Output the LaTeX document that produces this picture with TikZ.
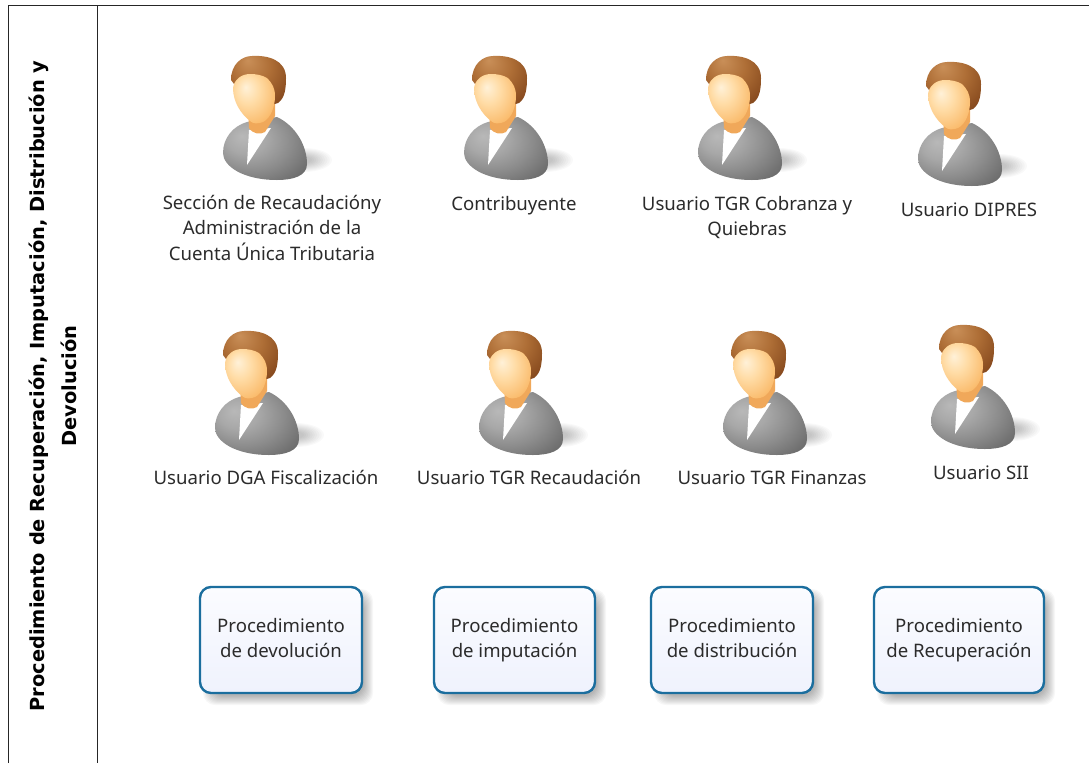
\documentclass[tikz,border=0pt]{standalone}
\usepackage{fontspec}
\setmainfont{Noto Sans}
\newfontfamily\ttlfont{DejaVu Sans}
\usetikzlibrary{calc}
\definecolor{labelc}{HTML}{2B2B2B}
\definecolor{boxb}{HTML}{1B6E9E}
\definecolor{boxf}{HTML}{EFF2FD}
\definecolor{boxt}{HTML}{FBFCFF}
\definecolor{neckc}{HTML}{F0A85A}
\definecolor{bodyA}{HTML}{B8B8B8}\definecolor{bodyB}{HTML}{A8A8A8}\definecolor{bodyC}{HTML}{8C8C8C}\definecolor{bodyD}{HTML}{686868}\definecolor{bodyE}{HTML}{404040}
\definecolor{faceA}{HTML}{FFF1D8}\definecolor{faceB}{HTML}{FFDCA6}\definecolor{faceC}{HTML}{FABB6C}\definecolor{faceD}{HTML}{E8923A}
\definecolor{hairA}{HTML}{C98F58}\definecolor{hairB}{HTML}{AE6E36}\definecolor{hairC}{HTML}{874A1E}\definecolor{hairD}{HTML}{633414}
\pgfdeclareradialshading{bodyshade}{\pgfpoint{-14bp}{10bp}}{color(0bp)=(bodyA);color(12bp)=(bodyB);color(24bp)=(bodyC);color(38bp)=(bodyD);color(60bp)=(bodyE)}
\pgfdeclareradialshading{faceshade}{\pgfpoint{-10bp}{12bp}}{color(0bp)=(faceA);color(14bp)=(faceB);color(32bp)=(faceC);color(60bp)=(faceD)}
\pgfdeclareradialshading{hairshade}{\pgfpoint{-10bp}{20bp}}{color(0bp)=(hairA);color(18bp)=(hairB);color(36bp)=(hairC);color(60bp)=(hairD)}
\tikzset{
  x=1pt,y=-1pt,
  lab/.style={font=\fontsize{18.6}{25}\selectfont,text=labelc,align=center,inner sep=0pt},
  ttl/.style={font=\fontsize{19.4}{32}\ttlfont\bfseries\selectfont,text=black,align=center,inner sep=0pt,rotate=90},
  frameln/.style={draw=black!85,line width=1.8pt},
  person/.pic={
    % floor shadow
    \foreach \k in {1,.92,.84,.76,.68,.6,.52,.44,.36,.28}{
      \fill[black,opacity=.022] (46,104) ellipse ({28*\k} and {12*\k});
    }
    % body
    \path[shading=bodyshade] (-11,66)
      .. controls (-25,70) and (-35,82) .. (-35,97)
      .. controls (-35,110) and (-15,124) .. (19,124)
      .. controls (35,124) and (49,120) .. (49,108)
      .. controls (49,90) and (38,70) .. (19,61) -- cycle;
    % shirt
    \fill[white] (-9,74) -- (-11,109) -- (13,72) -- cycle;
    % neck
    \fill[neckc] (-10,54) -- (-9,72) .. controls (-5,78) and (2,79) .. (7,76) -- (17,60) -- (17,48) -- cycle;
    % hair back
    \path[shading=hairshade] (-27,24)
      .. controls (-27,8) and (-16,0) .. (-6,0)
      .. controls (10,-1) and (28,4) .. (28,22)
      .. controls (28,32) and (27,42) .. (20,47)
      -- (10,50) -- (-15,40) -- cycle;
    % face
    \path[shading=faceshade] (-25,32)
      .. controls (-24,24) and (-17,18) .. (-8,18)
      .. controls (-2,18) and (4,19) .. (9,22)
      .. controls (14,27) and (17,32) .. (17,40)
      .. controls (17,50) and (13,62) .. (5,66)
      .. controls (0,68) and (-5,68) .. (-8,65)
      .. controls (-17,58) and (-25,46) .. (-25,32) -- cycle;
  },
  procbox/.style={draw=boxb,line width=2.4pt,top color=boxt,bottom color=boxf,rounded corners=11pt,minimum height=106pt,inner sep=0pt,
    font=\fontsize{18.6}{25}\selectfont,text=labelc,align=center},
}
\newcommand{\shadowbox}[4]{% x1,y1,x2,y2
  \foreach \d in {11,10,9,8,7,6,5,4,3,2}{
    \fill[black,opacity=.03,rounded corners=12pt] ({#1+14-\d},{#2+14-\d}) rectangle ({#3+\d},{#4+\d});
  }
}
\begin{document}
\begin{tikzpicture}
\useasboundingbox (0,0) rectangle (1089,763);
\fill[white] (0,0) rectangle (1089,763);
% frame
\coordinate (tl) at (8.5,5.5);
\coordinate (tr) at (1089,5.5);
\coordinate (bl) at (8.5,763);
\coordinate (dt) at (97.5,5.5);
\coordinate (db) at (97.5,763);
\draw[frameln] (bl) -- (tl) -- (tr);
\draw[frameln] (dt) -- (db);
\node[ttl] (title) at (54,386) {Procedimiento de Recuperación, Imputación, Distribución y\strut\\Devolución\strut};
% persons
\pic at (258,56) {person};
\pic at (499,56) {person};
\pic at (733,56) {person};
\pic at (953,62) {person};
\pic at (250,331) {person};
\pic at (514,331) {person};
\pic at (758,331) {person};
\pic at (966,325) {person};
% labels
\node[lab] (l1) at (272,230) {Sección de Recaudacióny\strut\\Administración de la\strut\\Cuenta Única Tributaria\strut};
\node[lab] (l2) at (514,205) {Contribuyente\strut};
\node[lab] (l3) at (747,217.5) {Usuario TGR Cobranza y\strut\\Quiebras\strut};
\node[lab] (l4) at (969,211) {Usuario DIPRES\strut};
\node[lab] (l5) at (266,479) {Usuario DGA Fiscalización\strut};
\node[lab] (l6) at (529,479) {Usuario TGR Recaudación\strut};
\node[lab] (l7) at (772,479) {Usuario TGR  Finanzas\strut};
\node[lab] (l8) at (981,474) {Usuario  SII\strut};
% boxes
\shadowbox{200}{586}{362}{694}
\shadowbox{434}{586}{595}{694}
\shadowbox{651}{586}{813}{694}
\shadowbox{874}{586}{1044}{694}
\node[procbox,minimum width=162pt] (b1) at (281,640) {Procedimiento\strut\\de devolución\strut};
\node[procbox,minimum width=161pt] (b2) at (514.5,640) {Procedimiento\strut\\de imputación\strut};
\node[procbox,minimum width=162pt] (b3) at (732,640) {Procedimiento\strut\\de distribución\strut};
\node[procbox,minimum width=170pt] (b4) at (959,640) {Procedimiento\strut\\de Recuperación\strut};
\end{tikzpicture}
\end{document}
